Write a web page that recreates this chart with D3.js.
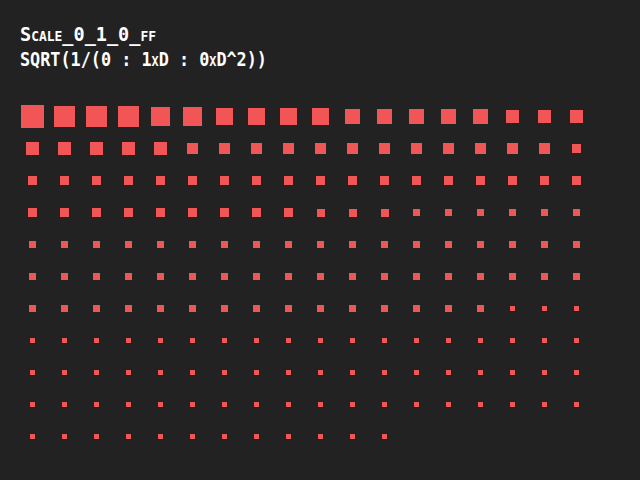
<!DOCTYPE html>
<html>
<head>
<meta charset="utf-8">
<script src="https://cdn.jsdelivr.net/npm/d3@7"></script>
<style>
  html, body { margin: 0; padding: 0; background: #222222; }
</style>
</head>
<body>
<div id="chart-area"></div>
<script>
// point size falloff grid

var title = "Scale_0_1_0_ff";
var subtitle = "SQRT(1/(0 : 1xD : 0xD^2))";

// square side (px) for each point, row by row
var row0 = [23, 21, 21, 21, 19, 19, 17, 17, 17, 17, 15, 15, 15, 15, 15, 13, 13, 13];
var row1 = [13, 13, 13, 13, 13, 11, 11, 11, 11, 11, 11, 11, 11, 11, 11, 11, 11, 9];
var row2 = [9, 9, 9, 9, 9, 9, 9, 9, 9, 9, 9, 9, 9, 9, 9, 9, 9, 9];
var row3 = [9, 9, 9, 9, 9, 9, 9, 9, 9, 8, 8, 8, 7, 7, 7, 7, 7, 7];
var row4 = [7, 7, 7, 7, 7, 7, 7, 7, 7, 7, 7, 7, 7, 7, 7, 7, 7, 7];
var row5 = [7, 7, 7, 7, 7, 7, 7, 7, 7, 7, 7, 7, 7, 7, 7, 7, 7, 7];
var row6 = [7, 7, 7, 7, 7, 7, 7, 7, 7, 7, 7, 7, 7, 7, 7, 5, 5, 5];
var row7 = [5, 5, 5, 5, 5, 5, 5, 5, 5, 5, 5, 5, 5, 5, 5, 5, 5, 5];
var row8 = [5, 5, 5, 5, 5, 5, 5, 5, 5, 5, 5, 5, 5, 5, 5, 5, 5, 5];
var row9 = [5, 5, 5, 5, 5, 5, 5, 5, 5, 5, 5, 5, 5, 5, 5, 5, 5, 5];
var row10 = [5, 5, 5, 5, 5, 5, 5, 5, 5, 5, 5, 5];

var rows = [row0, row1, row2, row3, row4, row5, row6, row7, row8, row9, row10];

var width = 640, height = 480;

var svg = d3.select("#chart-area")
    .append("svg")
    .attr("width", width)
    .attr("height", height)
    .style("display", "block")
    .style("background", "#222222");

var points = [];
rows.forEach(function(r, j) {
  r.forEach(function(s, i) { points.push({ col: i, row: j, size: s }); });
});

var x = d3.scaleLinear()
    .domain([0, 17])
    .range([32.5, 576.5]);

var y = d3.scaleLinear()
    .domain([0, 10])
    .range([116.5, 436.5]);

svg.append("g")
  .selectAll("rect")
  .data(points)
  .enter().append("rect")
    .attr("x", function(d) { return Math.round(x(d.col) - d.size / 2); })
    .attr("y", function(d) { return Math.round(y(d.row) - d.size / 2); })
    .attr("width", function(d) { return d.size; })
    .attr("height", function(d) { return d.size; })
    .attr("fill", "#f15555")
    .attr("shape-rendering", "crispEdges");

// header text
svg.append("text")
    .attr("x", 20)
    .attr("y", 41)
    .attr("textLength", 136)
    .attr("lengthAdjust", "spacingAndGlyphs")
    .style("font-family", "'DejaVu Sans Mono', monospace")
    .style("font-weight", "bold")
    .style("font-size", "20px")
    .style("font-variant", "small-caps")
    .attr("fill", "#ffffff")
    .text(title);

svg.append("text")
    .attr("x", 20)
    .attr("y", 66)
    .attr("textLength", 247)
    .attr("lengthAdjust", "spacingAndGlyphs")
    .style("font-family", "'DejaVu Sans Mono', monospace")
    .style("font-weight", "bold")
    .style("font-size", "20px")
    .style("font-variant", "small-caps")
    .attr("fill", "#ffffff")
    .text(subtitle);
</script>
</body>
</html>
